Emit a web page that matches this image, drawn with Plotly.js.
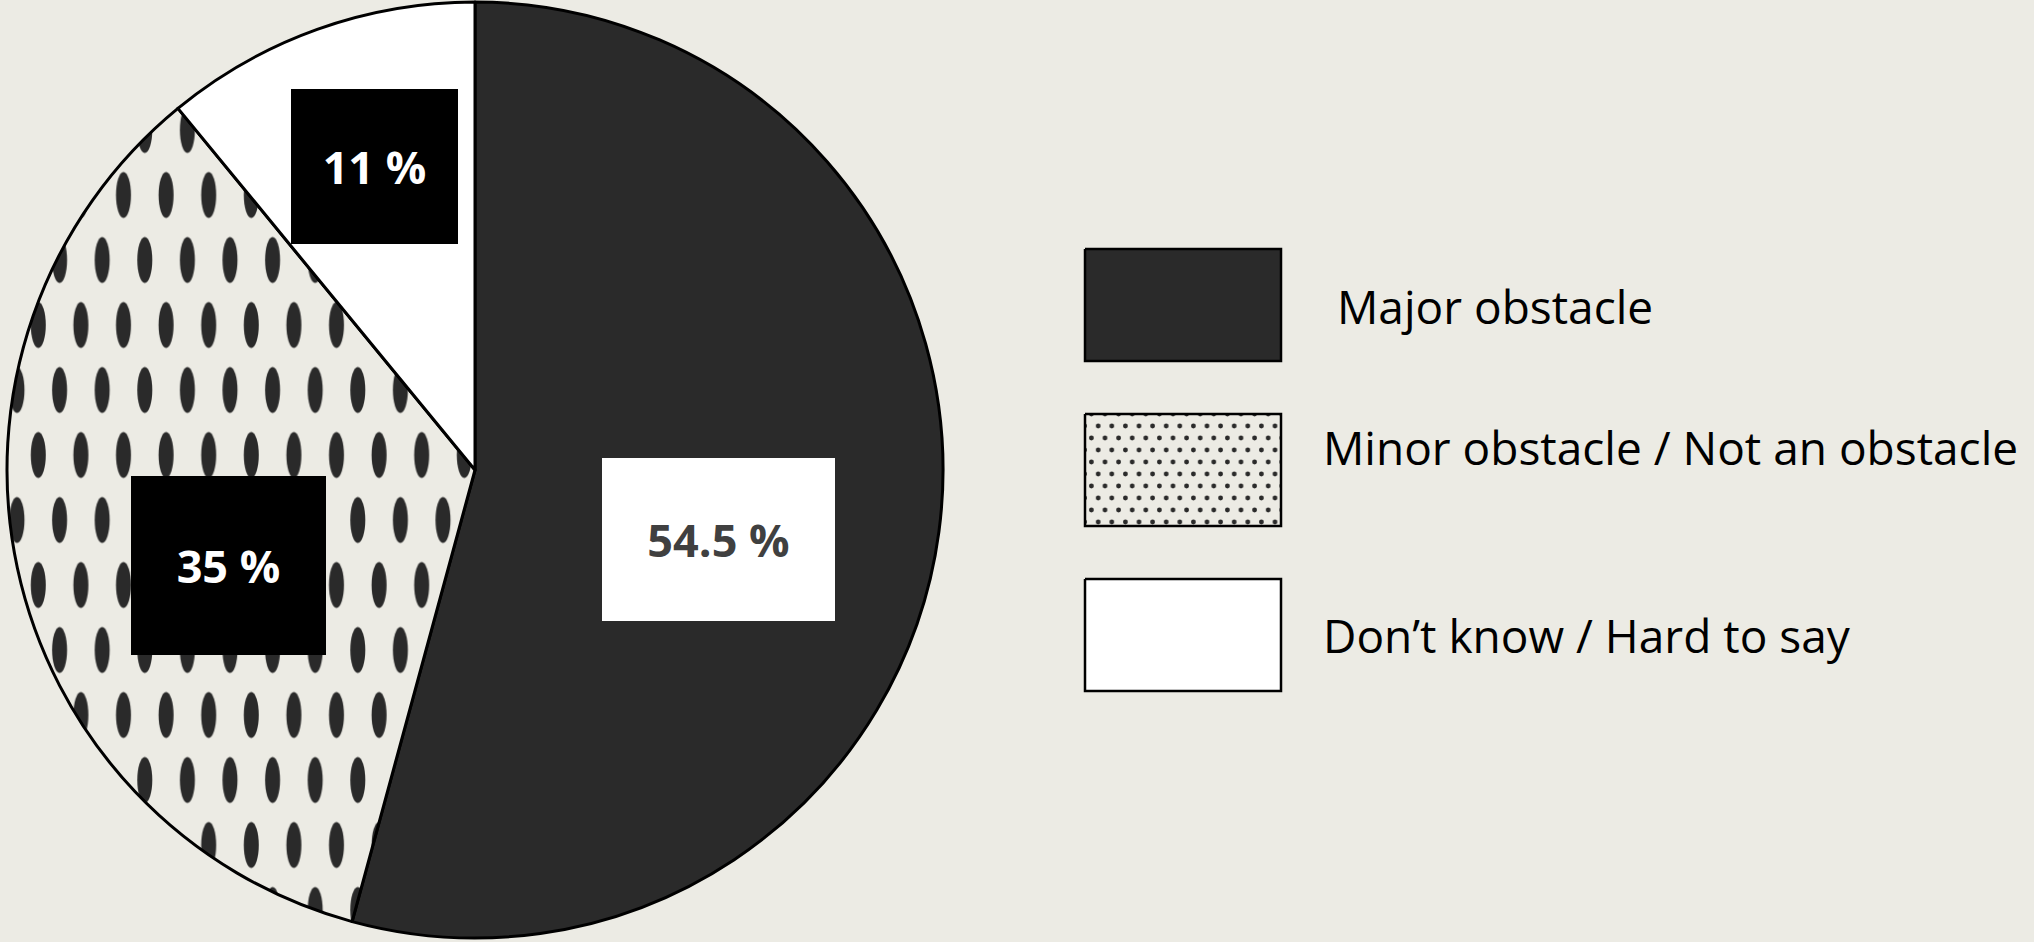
<!DOCTYPE html>
<html>
<head>
<meta charset="utf-8">
<script src="https://cdn.plot.ly/plotly-3.0.1.min.js"></script>
<style>
  html, body { margin: 0; padding: 0; background: #ECEBE4; }
  #chart { width: 2034px; height: 942px; }
</style>
</head>
<body>
<div id="chart"></div>
<script>
// ---- data ----
const labels = ['Major obstacle', 'Minor obstacle / Not an obstacle', 'Don\u2019t know / Hard to say'];
const values = [54.5, 35, 11];
const valueLabels = values.map(v => v + ' %');

// ---- styling ----
const BG = '#ECEBE4';
const DARK = '#2A2A2A';
const sliceColors = [DARK, BG, '#FFFFFF'];
const FONT = '"Open Sans", "Noto Sans", sans-serif';
const W = 2034, H = 942;

// pie geometry (px)
const pieCx = 475, pieCy = 470, pieR = 468;

// value label boxes (px centre, size) and styles
const boxPos = [
  {cx: 718.5, cy: 539.5, w: 233, h: 163, bg: '#FFFFFF', fc: '#404040'},
  {cx: 228.5, cy: 565.5, w: 195, h: 179, bg: '#000000', fc: '#FFFFFF'},
  {cx: 374.5, cy: 166.5, w: 167, h: 155, bg: '#000000', fc: '#FFFFFF'}
];

// legend layout (px)
const legX0 = 1085, legX1 = 1281, legY0 = 249, legStep = 165, legH = 112;
const legTextX = [1335, 1321, 1321];
const legTextY = [306, 447, 635];

const traces = [];
traces.push({
  type: 'pie',
  labels: labels,
  values: values,
  sort: false,
  direction: 'clockwise',
  rotation: 0,
  textinfo: 'none',
  hoverinfo: 'none',
  showlegend: false,
  domain: {x: [(pieCx - pieR) / W, (pieCx + pieR) / W], y: [(H - pieCy - pieR) / H, (H - pieCy + pieR) / H]},
  marker: {
    colors: sliceColors,
    line: {color: '#000000', width: 3},
    pattern: {shape: ['', '.', ''], size: 43, solidity: 0.1, fgcolor: DARK, bgcolor: [DARK, BG, '#FFFFFF'], fillmode: 'replace'}
  }
});

// legend swatches drawn as filled scatter shapes
labels.forEach((lab, i) => {
  const y0 = legY0 + legStep * i, y1 = y0 + legH;
  const t = {
    type: 'scatter', mode: 'lines', fill: 'toself',
    x: [legX0, legX1, legX1, legX0, legX0],
    y: [y0, y0, y1, y1, y0],
    line: {color: '#000000', width: 2.5},
    fillcolor: sliceColors[i],
    hoverinfo: 'skip', showlegend: false
  };
  if (i === 1) {
    t.fillpattern = {shape: '.', size: 13, solidity: 0.12, fgcolor: DARK, bgcolor: BG, fillmode: 'replace'};
  }
  traces.push(t);
});

const annotations = [];
valueLabels.forEach((txt, i) => {
  const b = boxPos[i];
  annotations.push({
    xref: 'paper', yref: 'paper',
    x: b.cx / W, y: 1 - b.cy / H, xanchor: 'center', yanchor: 'middle',
    text: '<b>' + txt + '</b>', showarrow: false,
    width: b.w, height: b.h, bgcolor: b.bg, borderpad: 0, borderwidth: 0,
    font: {family: FONT, size: 45, color: b.fc}
  });
});
labels.forEach((lab, i) => {
  annotations.push({
    xref: 'paper', yref: 'paper',
    x: legTextX[i] / W, y: 1 - legTextY[i] / H, xanchor: 'left', yanchor: 'middle',
    text: lab, showarrow: false,
    font: {family: FONT, size: 46, color: '#000000'}
  });
});

const layout = {
  width: W, height: H,
  margin: {l: 0, r: 0, t: 0, b: 0, pad: 0},
  paper_bgcolor: BG, plot_bgcolor: 'rgba(0,0,0,0)',
  showlegend: false,
  xaxis: {range: [0, W], visible: false, fixedrange: true, domain: [0, 1]},
  yaxis: {range: [H, 0], visible: false, fixedrange: true, domain: [0, 1]},
  annotations: annotations
};

const gd = document.getElementById('chart');
Plotly.newPlot(gd, traces, layout, {displayModeBar: false, staticPlot: true}).then(() => {
  const NS = 'http://www.w3.org/2000/svg';
  gd.querySelectorAll('pattern').forEach(p => {
    const w = parseFloat(p.getAttribute('width'));
    const mk = (tag, attrs) => { const e = document.createElementNS(NS, tag); for (const k in attrs) e.setAttribute(k, attrs[k]); return e; };
    if (Math.abs(w - 43) < 0.5) {
      // tall staggered ellipses, as in the reference
      while (p.firstChild) p.removeChild(p.firstChild);
      const tw = 42.6, th = 130;
      p.setAttribute('width', tw); p.setAttribute('height', th);
      p.setAttribute('x', 6.35); p.setAttribute('y', 97.5);
      p.removeAttribute('patternTransform');
      p.appendChild(mk('rect', {width: tw, height: th, fill: BG}));
      p.appendChild(mk('ellipse', {cx: 10.65, cy: 32.5, rx: 7.5, ry: 23, fill: DARK}));
      p.appendChild(mk('ellipse', {cx: 31.95, cy: 97.5, rx: 7.5, ry: 23, fill: DARK}));
    } else if (Math.abs(w - 13) < 0.5) {
      while (p.firstChild) p.removeChild(p.firstChild);
      const tw = 13.6, th = 24;
      p.setAttribute('width', tw); p.setAttribute('height', th);
      p.setAttribute('x', legX0 + 3); p.setAttribute('y', 0);
      p.removeAttribute('patternTransform');
      p.appendChild(mk('rect', {width: tw, height: th, fill: BG}));
      p.appendChild(mk('circle', {cx: 3.4, cy: 6, r: 2.4, fill: DARK}));
      p.appendChild(mk('circle', {cx: 10.2, cy: 18, r: 2.4, fill: DARK}));
    }
  });
});
</script>
</body>
</html>
